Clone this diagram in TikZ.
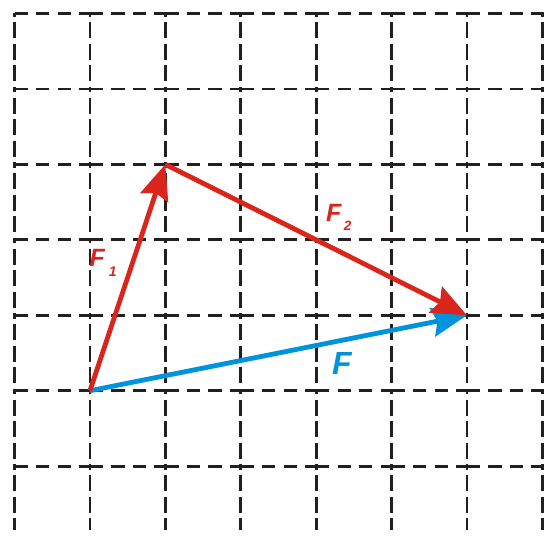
\documentclass[tikz,border=0pt]{standalone}
\usepackage{fontspec}
\setmainfont{Liberation Sans}
\usetikzlibrary{arrows.meta}
\definecolor{vred}{HTML}{DA251D}
\definecolor{vblue}{HTML}{0093DD}
\definecolor{gridk}{HTML}{231F20}
\begin{document}
\begin{tikzpicture}[x=1pt,y=-1pt,
  hseg/.style={draw=gridk,line width=2.8pt,dash pattern=on 13.2pt off 8.3pt},
  vseg/.style={draw=gridk,line width=2.8pt,dash pattern=on 16pt off 5.5pt,dash phase=12.5pt},
  vec/.style={line width=4.8pt,-{Stealth[length=35pt,width=29pt,inset=5pt]}},
  lab/.style={anchor=base west,inner sep=0pt,font=\fontsize{25}{26}\selectfont\bfseries\itshape}]
\useasboundingbox (0,0) rectangle (544,537);
\begin{scope}
\clip (0,0) rectangle (544,537);
% horizontal grid lines
\foreach \j in {0,...,6} {
  \foreach \i in {0,...,7} {
    \draw[hseg] ({14.5+75.4*\i},{13.5+75.45*\j}) -- ({14.5+75.4*(\i+1)},{13.5+75.45*\j});
  }
}
% vertical grid lines
\foreach \i in {0,...,7} {
  \foreach \j in {0,...,5} {
    \draw[vseg] ({14.5+75.4*\i},{13.5+75.45*\j}) -- ({14.5+75.4*\i},{13.5+75.45*(\j+1)});
  }
  \draw[vseg] ({14.5+75.4*\i},{13.5+75.45*6}) -- ({14.5+75.4*\i},530);
}
\end{scope}
% vector end points
\coordinate (O) at (89.9,390.75);
\coordinate (A) at (165.3,164.4);
\coordinate (B) at (466.9,315.3);
% vectors
\draw[vec,vblue] (O) -- (B);
\draw[vec,vred] (O) -- (A);
\draw[vec,vred] (A) -- (B);
% labels
\node[lab,text=vred] (f1) at (89.5,266.7) {F\hspace{4pt}\raisebox{-10.3pt}{\fontsize{14}{14}\selectfont 1}};
\node[lab,text=vred] (f2) at (325.8,222) {F\hspace{2.5pt}\raisebox{-9pt}{\fontsize{13.5}{14}\selectfont 2}};
\node[lab,text=vblue,font=\fontsize{32}{33}\selectfont\bfseries\itshape] (f) at (332,375) {F};
\end{tikzpicture}
\end{document}
